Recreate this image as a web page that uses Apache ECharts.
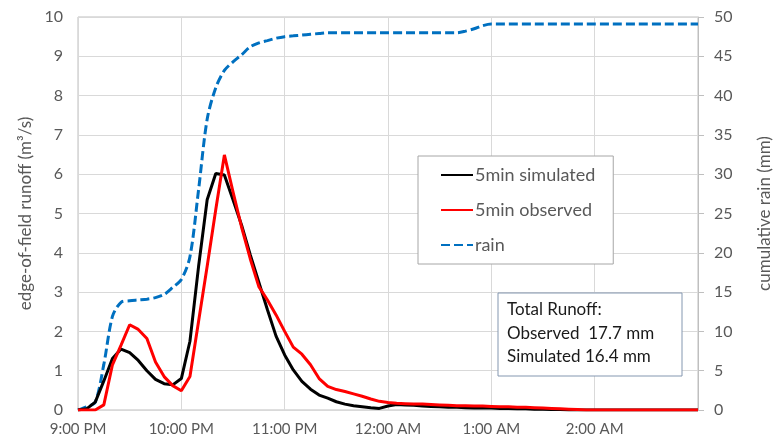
<!DOCTYPE html>
<html>
<head>
<meta charset="utf-8">
<script src="https://cdn.jsdelivr.net/npm/echarts@6/dist/echarts.min.js"></script>
<style>
  html, body { margin: 0; padding: 0; background: #fff; }
  #chart { width: 781px; height: 440px; }
</style>
</head>
<body>
<div id="chart"></div>
<script>
// 5-minute steps starting 9:00 PM
var tickLabels = ['9:00 PM', '10:00 PM', '11:00 PM', '12:00 AM', '1:00 AM', '2:00 AM', ''];

var simulated = [
  0, 0.03, 0.2, 0.74, 1.31, 1.55, 1.46, 1.26, 1.0, 0.78, 0.67, 0.64,
  0.8, 1.75, 3.65, 5.35, 6.02, 5.98, 5.35, 4.7, 3.95, 3.25, 2.55, 1.88,
  1.4, 1.02, 0.73, 0.53, 0.38, 0.3, 0.21, 0.15, 0.11, 0.085, 0.06, 0.04,
  0.1, 0.14, 0.13, 0.12, 0.1, 0.09, 0.08, 0.07, 0.07, 0.06, 0.05, 0.05,
  0.05, 0.04, 0.04, 0.03, 0.03, 0.02, 0.02, 0.01, 0.01, 0, 0, 0,
  0, 0, 0, 0, 0, 0, 0, 0, 0, 0, 0, 0, 0
];

var observed = [
  0, 0, 0, 0.13, 1.15, 1.65, 2.17, 2.05, 1.82, 1.22, 0.85, 0.62,
  0.49, 0.85, 2.25, 3.66, 5.1, 6.49, 5.55, 4.65, 3.85, 3.14, 2.8, 2.42,
  2.0, 1.6, 1.42, 1.15, 0.8, 0.6, 0.52, 0.47, 0.41, 0.35, 0.28, 0.22,
  0.19, 0.17, 0.16, 0.15, 0.15, 0.14, 0.13, 0.12, 0.11, 0.11, 0.1, 0.1,
  0.09, 0.08, 0.08, 0.07, 0.07, 0.06, 0.05, 0.04, 0.03, 0.02, 0.01, 0,
  0, 0, 0, 0, 0, 0, 0, 0, 0, 0, 0, 0, 0
];

var rain = [
  0, 0.4, 1.0, 5.8, 11.9, 13.7, 13.9, 14.0, 14.1, 14.3, 14.7, 15.6,
  16.6, 19.5, 28.0, 37.0, 41.0, 43.2, 44.3, 45.2, 46.2, 46.7, 47.0, 47.3,
  47.5, 47.6, 47.7, 47.8, 47.9, 48.0, 48.0, 48.0, 48.0, 48.0, 48.0, 48.0,
  48.0, 48.0, 48.0, 48.0, 48.0, 48.0, 48.0, 48.0, 48.0, 48.2, 48.5, 48.9,
  49.1, 49.1, 49.1, 49.1, 49.1, 49.1, 49.1, 49.1, 49.1, 49.1, 49.1, 49.1,
  49.1, 49.1, 49.1, 49.1, 49.1, 49.1, 49.1, 49.1, 49.1, 49.1, 49.1, 49.1, 49.1
];

var summary = ['Total Runoff:', 'Observed  17.7 mm', 'Simulated 16.4 mm'];

function pairs(arr) {
  return arr.map(function (v, i) { return [i * 5, v]; });
}

var font = 'Lato, "Open Sans", sans-serif';
var grey = '#595959';

var myChart = echarts.init(document.getElementById('chart'));

var option = {
  animation: false,
  textStyle: { fontFamily: font },
  grid: {
    left: 78, right: 83, top: 17, bottom: 30,
    show: true, borderColor: '#bfbfbf', borderWidth: 1
  },
  legend: {
    orient: 'vertical',
    left: 418, top: 156,
    padding: [10, 18, 10, 22],
    itemGap: 17,
    itemWidth: 32, itemHeight: 14,
    backgroundColor: '#fff',
    borderColor: '#a6a6a6', borderWidth: 1,
    itemStyle: { opacity: 0 },
    textStyle: { fontSize: 18, color: grey, fontFamily: font, padding: [0, 0, 0, -3] },
    data: ['5min simulated', '5min observed', 'rain']
  },
  xAxis: {
    type: 'value',
    min: 0, max: 360, interval: 60,
    axisLine: { show: true, lineStyle: { color: '#d9d9d9' } },
    axisTick: { show: false },
    axisLabel: {
      fontSize: 15, color: grey, margin: 12,
      formatter: function (v) { return tickLabels[v / 60]; }
    },
    splitLine: { show: true, lineStyle: { color: '#d9d9d9' } }
  },
  yAxis: [
    {
      type: 'value', min: 0, max: 10, interval: 1,
      name: 'edge-of-field runoff (m\u00b3/s)',
      nameLocation: 'middle', nameRotate: 90, nameGap: 38,
      nameTextStyle: { fontSize: 17, color: grey },
      axisLine: { show: false },
      axisTick: { show: false },
      axisLabel: { fontSize: 16, color: grey, margin: 15 },
      splitLine: { show: true, lineStyle: { color: '#d9d9d9' } }
    },
    {
      type: 'value', min: 0, max: 50, interval: 5,
      name: 'cumulative rain (mm)',
      nameLocation: 'middle', nameRotate: 90, nameGap: 58,
      nameTextStyle: { fontSize: 17, color: grey },
      axisLine: { show: true, lineStyle: { color: '#bfbfbf' } },
      axisTick: { show: true, inside: false, length: 6, lineStyle: { color: '#bfbfbf' } },
      axisLabel: { fontSize: 16, color: grey, margin: 16 },
      splitLine: { show: false }
    }
  ],
  graphic: [
    {
      type: 'rect',
      shape: { x: 498, y: 293, width: 184, height: 83 },
      style: { fill: '#fff', stroke: '#8497b0', lineWidth: 1 },
      z: 10
    },
    {
      type: 'text',
      left: 507, top: 298,
      style: {
        text: summary.join('\n'),
        font: '17px ' + font,
        fill: '#1a1a1a',
        lineHeight: 23.5
      },
      z: 11
    }
  ],
  series: [
    {
      name: '5min simulated', type: 'line', yAxisIndex: 0,
      data: pairs(simulated), showSymbol: false, symbol: 'none',
      lineStyle: { color: '#000000', width: 3 }, itemStyle: { color: '#000000' },
      z: 4
    },
    {
      name: '5min observed', type: 'line', yAxisIndex: 0,
      data: pairs(observed), showSymbol: false, symbol: 'none',
      lineStyle: { color: '#ff0000', width: 3 }, itemStyle: { color: '#ff0000' },
      z: 5
    },
    {
      name: 'rain', type: 'line', yAxisIndex: 1,
      data: pairs(rain), showSymbol: false, symbol: 'none', smooth: 0.3,
      lineStyle: { color: '#0070c0', width: 3, type: [9, 4] }, itemStyle: { color: '#0070c0' },
      z: 3
    }
  ]
};

myChart.setOption(option);
</script>
</body>
</html>
